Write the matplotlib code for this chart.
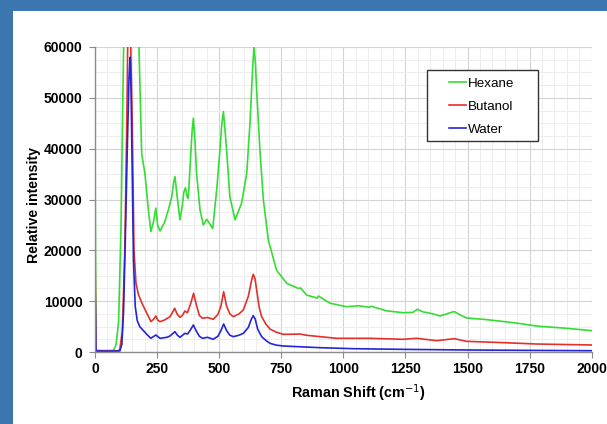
import matplotlib
matplotlib.use("Agg")
import matplotlib.pyplot as plt
from matplotlib.patches import Rectangle
from matplotlib.ticker import MultipleLocator

plt.rcParams['font.family'] = ['Liberation Sans', 'DejaVu Sans']

# Raman spectra (shift in cm-1, intensity)
hexane_x = [0, 4, 10, 40, 75, 85, 95, 105, 112, 116, 125, 140, 165, 177, 188, 201, 215, 225,
            235, 245, 252, 262, 280, 295, 309, 316, 322, 331, 342, 352, 358, 364, 373, 376,
            385, 391, 396, 402, 409, 423, 436, 450, 474, 490, 503, 510, 517, 523, 530, 543,
            564, 590, 611, 624, 630, 635, 640, 645, 651, 664, 678, 698, 731, 772, 819, 828,
            852, 895, 900, 946, 1013, 1060, 1103, 1112, 1174, 1241, 1280, 1298, 1320, 1362,
            1389, 1416, 1443, 1449, 1470, 1496, 1570, 1644, 1710, 1778, 1890, 2000]
hexane_y = [39000, 400, 300, 280, 300, 1500, 6000, 25000, 50000, 62000, 90000, 150000, 90000,
            60000, 39000, 35100, 27900, 23700, 25500, 28300, 25000, 23800, 25500, 27900, 30500,
            33200, 34500, 30500, 26000, 29000, 31500, 32300, 30200, 30500, 38400, 43500, 46000,
            42000, 35100, 27900, 25000, 26100, 24300, 31900, 39700, 44500, 47300, 44000, 39700,
            30500, 26000, 29250, 35150, 45000, 51000, 56100, 60000, 57500, 51500, 39700, 29900,
            22000, 16100, 13500, 12500, 12600, 11200, 10600, 11000, 9600, 8900, 9100, 8800,
            9000, 8100, 7730, 7800, 8400, 7900, 7500, 7080, 7500, 7930, 7900, 7300, 6700, 6400,
            6000, 5600, 5100, 4700, 4200]

butanol_x = [0, 4, 10, 40, 95, 100, 110, 120, 128, 132, 138, 144, 150, 157, 165, 175, 190,
             205, 225, 235, 245, 252, 262, 280, 302, 312, 321, 330, 342, 352, 362, 372, 385,
             397, 407, 420, 433, 453, 476, 495, 507, 518, 530, 543, 557, 580, 597, 617, 631,
             637, 644, 651, 661, 671, 688, 705, 730, 758, 800, 825, 850, 906, 973, 1107, 1241,
             1295, 1376, 1447, 1496, 1644, 1778, 2000]
butanol_y = [20700, 300, 250, 230, 250, 600, 4000, 20000, 45000, 62000, 75000, 60000, 45000,
             20000, 13500, 11300, 9500, 8000, 6000, 6400, 7080, 6300, 5960, 6300, 6950, 7800,
             8600, 7500, 6830, 7200, 8070, 7730, 9500, 11550, 9500, 7200, 6630, 6800, 6430,
             7400, 9000, 11860, 9000, 7500, 6950, 7500, 8260, 10900, 14200, 15280, 14500, 12200,
             8800, 6950, 5500, 4500, 3900, 3480, 3500, 3540, 3300, 3020, 2690, 2690, 2500,
             2690, 2230, 2620, 2100, 1840, 1570, 1380]

water_x = [0, 4, 10, 40, 100, 108, 115, 122, 130, 137, 141, 145, 150, 155, 162, 170, 180,
           195, 210, 225, 245, 262, 290, 302, 322, 332, 342, 362, 373, 385, 396, 406, 420,
           433, 453, 476, 495, 507, 518, 530, 543, 557, 580, 597, 617, 630, 637, 645, 655,
           671, 690, 705, 730, 758, 906, 1040, 1241, 1510, 2000]
water_y = [14200, 250, 200, 180, 200, 1500, 8000, 22000, 40000, 54000, 58000, 52000, 35000,
           18000, 9000, 6200, 5000, 4200, 3400, 2700, 3340, 2690, 2900, 3150, 4000, 3300,
           2890, 3670, 3540, 4400, 5310, 4300, 3100, 2690, 2890, 2500, 3100, 4200, 5510, 4200,
           3300, 3020, 3300, 3670, 4800, 6500, 7150, 6500, 4500, 3020, 2200, 1700, 1350, 1180,
           850, 650, 520, 390, 250]

fig = plt.figure(figsize=(6.07, 4.24), dpi=100, facecolor='#3b76af')
fig.add_artist(Rectangle((13 / 607, 0), 1, 1 - 11 / 424, transform=fig.transFigure,
                         facecolor='white', edgecolor='none', zorder=-5))

ax = fig.add_axes([95 / 607, 1 - 352 / 424, 496.7 / 607, 305 / 424])
ax.set_zorder(2)
ax.set_facecolor('white')

ax.plot(hexane_x, hexane_y, color='#33dd33', lw=1.2, label='Hexane')
ax.plot(butanol_x, butanol_y, color='#e4302a', lw=1.2, label='Butanol')
ax.plot(water_x, water_y, color='#2424d8', lw=1.2, label='Water')

ax.set_xlim(0, 2000)
ax.set_ylim(0, 60000)
ax.xaxis.set_major_locator(MultipleLocator(250))
ax.xaxis.set_minor_locator(MultipleLocator(50))
ax.yaxis.set_major_locator(MultipleLocator(10000))
ax.yaxis.set_minor_locator(MultipleLocator(2500))
ax.grid(which='major', color='#d4d4d4', lw=0.8)
ax.grid(which='minor', color='#ededed', lw=0.7)
ax.set_axisbelow(True)

for side in ['top', 'right']:
    ax.spines[side].set_visible(False)
for side in ['left', 'bottom']:
    ax.spines[side].set_color('#8c8c8c')
    ax.spines[side].set_linewidth(1.0)

ax.tick_params(which='major', length=4, color='#8c8c8c', labelsize=10, pad=3)
ax.tick_params(axis='y', which='major', pad=5)
ax.tick_params(which='minor', length=0)
for lab in ax.get_xticklabels() + ax.get_yticklabels():
    lab.set_fontweight('bold')

ax.set_xlabel('Raman Shift (cm$^{-1}$)', fontsize=10.4, fontweight='bold', labelpad=3)
ax.xaxis.set_label_coords(0.531, -0.1)
ax.set_ylabel('Relative intensity', fontsize=10.2, fontweight='bold', labelpad=2)
ax.yaxis.label.set_y(0.482)

# legend box drawn by hand (wider padding than matplotlib's default frame)
ax.add_patch(Rectangle((0.668, 0.6928), 0.2247, 0.2318, transform=ax.transAxes,
                       facecolor='white', edgecolor='#333333', lw=1.0, zorder=5))
leg = ax.legend(loc='upper left', bbox_to_anchor=(0.7127, 0.899), fontsize=9.6,
                handlelength=1.3, handletextpad=0.1, labelspacing=0.8, borderpad=0,
                borderaxespad=0, frameon=False)
leg.set_zorder(6)

fig.savefig('out.png', dpi=100, facecolor=fig.get_facecolor())
